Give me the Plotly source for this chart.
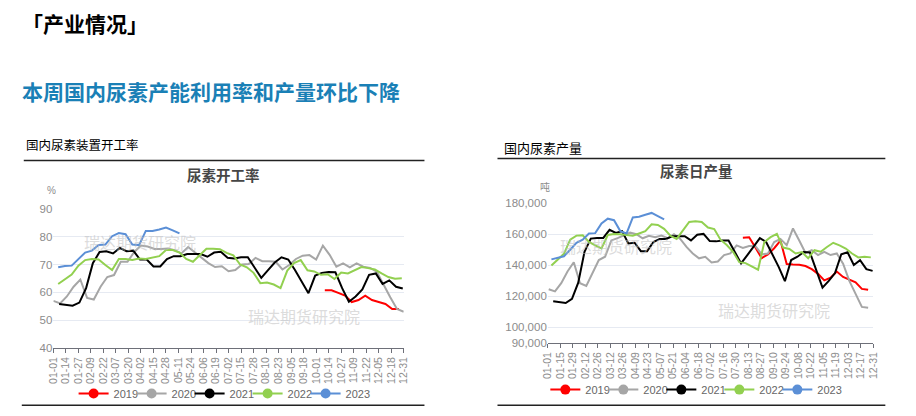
import plotly.graph_objects as go

W, H = 916, 416

# ---------------- data: capacity utilisation (%) ----------------
left_ticks = ["01-01","01-14","01-27","02-09","02-22","03-07","03-20","04-02","04-15","04-28",
              "05-11","05-24","06-06","06-19","07-02","07-15","07-28","08-10","08-23","09-05",
              "09-18","10-01","10-14","10-27","11-09","11-22","12-05","12-18","12-31"]
util_start = {"2019": 282, "2020": 0, "2021": 6, "2022": 5, "2023": 5}
util_2019 = [60.7, 60.7, 59.8, 58.8, 56.5, 57.2, 58.8, 57.2, 56.5, 55.8, 54.0, 54.0]
util_2020 = [56.9, 56.0, 58.5, 62.0, 64.6, 58.0, 57.4, 62.0, 65.5, 66.2, 71.0, 71.0, 74.5, 76.8,
             76.5, 75.6, 75.6, 75.8, 75.2, 74.0, 76.3, 74.3, 72.2, 70.5, 69.1, 69.4, 67.6, 68.0,
             70.0, 70.2, 72.4, 71.2, 71.2, 71.0, 68.2, 69.8, 72.0, 73.2, 73.4, 71.8, 76.8, 73.5,
             69.2, 70.4, 69.0, 70.4, 69.2, 68.8, 67.4, 62.5, 58.2, 54.0, 53.0]
util_2021 = [55.8, 55.5, 55.2, 56.3, 61.5, 70.5, 74.5, 74.8, 74.0, 76.0, 74.8, 75.0, 71.8, 71.8,
             69.3, 69.3, 72.0, 73.0, 73.0, 73.8, 73.8, 73.8, 72.8, 74.3, 74.6, 72.4, 72.2, 72.6,
             72.6, 69.0, 65.2, 68.0, 70.7, 72.6, 71.8, 68.0, 63.8, 59.7, 66.0, 67.0, 67.3, 67.2,
             61.5, 56.6, 58.5, 61.0, 66.3, 66.8, 63.0, 64.3, 62.0, 61.4]
util_2022 = [63.0, 64.7, 66.4, 69.6, 71.6, 72.0, 71.8, 69.8, 68.0, 72.0, 72.0, 71.6, 72.2, 72.0,
             72.4, 73.0, 75.2, 75.2, 74.3, 72.0, 71.0, 73.5, 75.7, 75.7, 75.5, 74.2, 73.3, 70.0,
             69.0, 67.0, 63.3, 63.5, 62.8, 61.5, 67.8, 70.5, 71.6, 67.9, 67.5, 66.3, 66.5, 64.8,
             67.1, 66.8, 67.9, 69.1, 68.7, 68.2, 66.8, 65.5, 64.9, 65.1]
util_2023 = [69.0, 69.5, 69.6, 72.0, 74.3, 75.0, 77.0, 77.2, 80.2, 81.3, 80.9, 77.2, 77.0, 82.1,
             82.1, 82.6, 83.3, 82.3, 81.2]

# ---------------- data: daily output (thousand t) ----------------
right_ticks = ["01-01","01-15","01-29","02-12","02-26","03-12","03-26","04-09","04-23","05-07",
               "05-21","06-04","06-18","07-02","07-16","07-30","08-13","08-27","09-10","09-24",
               "10-08","10-22","11-05","11-19","12-03","12-17","12-31"]
prod_start = {"2019": 218, "2020": 1, "2021": 6, "2022": 4, "2023": 4}
prod_2019 = [157.8, 158.1, 151.5, 144.6, 147.0, 151.0, 155.9, 140.8, 140.5, 140.3, 139.5, 137.5,
             134.5, 130.3, 132.0, 136.0, 132.5, 130.5, 129.0, 124.8, 124.2]
prod_2020 = [124.6, 123.2, 128.5, 136.0, 142.0, 128.5, 126.7, 135.0, 143.4, 145.5, 156.0, 157.5,
             159.5, 161.0, 160.0, 157.4, 159.0, 158.0, 159.1, 157.4, 160.0, 157.0, 151.8, 147.6,
             144.5, 145.5, 141.8, 142.4, 146.6, 147.6, 152.8, 151.2, 152.4, 152.4, 147.0, 147.6,
             155.0, 157.0, 153.0, 163.7, 156.0, 148.0, 149.7, 146.6, 148.7, 146.6, 147.6, 141.0,
             130.0, 121.5, 113.2, 112.7]
prod_2021 = [116.9, 116.3, 115.7, 118.4, 128.8, 148.7, 157.2, 157.6, 157.6, 162.8, 160.8, 162.0,
             154.0, 154.5, 149.1, 149.1, 155.0, 157.0, 157.0, 158.7, 158.7, 158.7, 156.0, 159.7,
             160.2, 155.6, 155.4, 156.0, 156.0, 148.5, 141.2, 146.5, 152.0, 157.5, 155.0, 147.5,
             139.0, 129.8, 143.4, 145.5, 148.6, 148.2, 137.0, 125.6, 130.0, 135.0, 147.1, 148.4,
             140.2, 143.3, 137.5, 136.4]
prod_2022 = [139.9, 143.4, 147.4, 156.5, 159.1, 159.3, 155.0, 152.8, 150.8, 159.5, 160.2, 160.0,
             159.3, 159.1, 160.5, 162.0, 166.4, 166.0, 163.5, 159.0, 157.0, 162.5, 167.9, 168.3,
             167.9, 164.3, 163.3, 156.5, 153.0, 148.7, 142.0, 141.4, 139.3, 137.2, 155.0, 158.1,
             160.2, 151.4, 150.5, 147.6, 148.5, 144.5, 149.7, 148.7, 151.8, 154.5, 152.8, 150.8,
             147.6, 145.1, 145.5, 145.1]
prod_2023 = [143.8, 145.0, 145.8, 150.0, 154.5, 156.5, 160.5, 160.7, 167.0, 170.0, 169.0, 162.0,
             160.5, 170.8, 171.2, 172.5, 173.7, 171.6, 169.5]

years = ["2019", "2020", "2021", "2022", "2023"]
colors = {"2019": "#ff0000", "2020": "#a6a6a6", "2021": "#000000", "2022": "#92d050", "2023": "#5b8fd6"}
util = {"2019": util_2019, "2020": util_2020, "2021": util_2021, "2022": util_2022, "2023": util_2023}
prod = {"2019": prod_2019, "2020": prod_2020, "2021": prod_2021, "2022": prod_2022, "2023": prod_2023}

LAT = "Liberation Sans, Noto Sans CJK SC, sans-serif"
CJK = "Noto Sans CJK SC, sans-serif"

def week_days(start, n):
    return [start + 7 * k for k in range(n)]

def legend_entry(y, xa, ya, leg):
    return go.Scatter(x=[None], y=[None], mode="lines+markers", name=y,
                      line=dict(color=colors[y], width=2), marker=dict(size=10, color=colors[y]),
                      xaxis=xa, yaxis=ya, legend=leg, legendwidth=(26 if y == years[-1] else 13))

fig = go.Figure()
for y in years:
    fig.add_trace(go.Scatter(x=week_days(util_start[y], len(util[y])), y=util[y], mode="lines",
                             line=dict(color=colors[y], width=2), showlegend=False,
                             xaxis="x", yaxis="y", hoverinfo="skip"))
    fig.add_trace(legend_entry(y, "x", "y", "legend"))
for y in years:
    vals = [v * 1000 for v in prod[y]]
    fig.add_trace(go.Scatter(x=week_days(prod_start[y], len(vals)), y=vals, mode="lines",
                             line=dict(color=colors[y], width=2), showlegend=False,
                             xaxis="x2", yaxis="y2", hoverinfo="skip"))
    fig.add_trace(legend_entry(y, "x2", "y2", "legend2"))

def px(x):
    return x / W

def py(y):
    return 1 - y / H

xcommon = dict(range=[0, 364], showgrid=False, zeroline=False, showline=True, linecolor="#6e7079",
               linewidth=1, ticks="outside", ticklen=4, tickcolor="#6e7079", tickangle=-90,
               tickfont=dict(family=LAT, size=10.5, color="#8c8c8c"))
ycommon = dict(showgrid=True, gridcolor="#e6eaf2", gridwidth=1, zeroline=False, showline=False,
               ticks="", tickfont=dict(family=LAT, size=11.5, color="#8c8c8c"))

legcommon = dict(orientation="h", xanchor="center", yanchor="middle",
                 font=dict(family=LAT, size=11, color="#666"), itemwidth=30, tracegroupgap=0,
                 entrywidthmode="pixels", bgcolor="rgba(0,0,0,0)")

fig.update_layout(
    width=W, height=H, margin=dict(l=0, r=0, t=0, b=0),
    paper_bgcolor="white", plot_bgcolor="white",
    xaxis=dict(domain=[px(47), px(402)], anchor="y",
               tickvals=[13 * i for i in range(len(left_ticks))], ticktext=left_ticks, **xcommon),
    yaxis=dict(domain=[py(352), py(209)], anchor="x", range=[40, 90], dtick=10, **ycommon),
    xaxis2=dict(domain=[px(548), px(878)], anchor="y2",
                tickvals=[14 * i for i in range(len(right_ticks))], ticktext=right_ticks, **xcommon),
    yaxis2=dict(domain=[py(347), py(203)], anchor="x2", range=[90000, 180000],
                tickvals=[90000, 100000, 120000, 140000, 160000, 180000], tickformat=",d", **ycommon),
    legend=dict(x=px(221), y=py(399), **legcommon),
    legend2=dict(x=px(699), y=py(395), **legcommon),
    hovermode=False,
)

ann = []
def text(x, y, s, size, color, bold=False, family=CJK):
    ann.append(dict(x=px(x), y=py(y), xref="paper", yref="paper", text=("<b>%s</b>" % s) if bold else s,
                    showarrow=False, xanchor="center", yanchor="middle",
                    font=dict(family=family, size=size, color=color)))

text(79, 18, "「产业情况」", 21, "#000000", bold=True)
text(207, 88, "本周国内尿素产能利用率和产量环比下降", 21, "#1a80b6", bold=True)
text(77, 143, "国内尿素装置开工率", 12.5, "#000000")
text(543, 146, "国内尿素产量", 13, "#000000")
text(219, 174, "尿素开工率", 14.5, "#464646", bold=True)
text(699, 169, "尿素日产量", 14.5, "#464646", bold=True)
text(45, 190, "%", 10, "#8c8c8c", family=LAT)
text(545, 186, "吨", 10, "#8c8c8c")
# watermarks
for (x, y) in [(135, 243), (301, 319), (617, 247), (777, 313)]:
    text(x, y, "瑞达期货研究院", 16, "rgba(190,190,190,0.55)")
fig.update_layout(annotations=ann)

shapes = []
for (x0, x1, y0) in [(17, 423, 159), (15, 423, 411), (497, 890, 157), (497, 890, 411)]:
    shapes.append(dict(type="line", xref="paper", yref="paper", x0=px(x0), x1=px(x1),
                       y0=py(y0), y1=py(y0), line=dict(color="#222", width=1.5)))
fig.update_layout(shapes=shapes)

fig.write_html("out.html", config={"displayModeBar": False},
               post_script="document.body.style.margin='0px';document.body.style.overflow='hidden';")
